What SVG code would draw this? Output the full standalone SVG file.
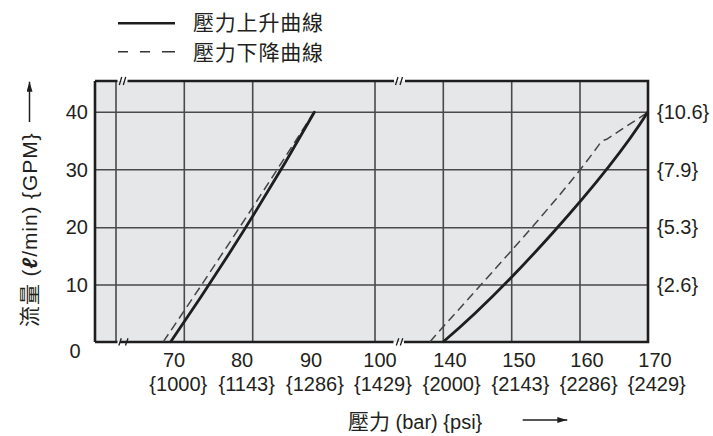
<svg xmlns="http://www.w3.org/2000/svg" width="713" height="436" viewBox="0 0 713 436">
<style>
.t{font-family:"Liberation Sans","Noto Sans CJK TC",sans-serif;font-size:20px;fill:#231f20}
.c{font-size:21px}
.grid{stroke:#4a4a4a;stroke-width:1.6;fill:none}
.frame{stroke:#1e1e1e;stroke-width:2.6;fill:none}
.brk{stroke:#1e1e1e;stroke-width:1.3;fill:none}
.up{stroke:#1e1e1e;stroke-width:2.8;fill:none;stroke-linejoin:round;stroke-linecap:round}
.down{stroke:#444;stroke-width:1.5;fill:none;stroke-dasharray:9 5}
</style>
<defs>
<marker id="ah" viewBox="0 0 10 6" refX="10" refY="3" markerWidth="10" markerHeight="6" markerUnits="userSpaceOnUse" orient="auto">
<path d="M0,0 L10,3 L0,6 Z" fill="#1e1e1e"/>
</marker>
</defs>

<g id="legend">
<line x1="118" y1="23.3" x2="175" y2="23.3" stroke="#1e1e1e" stroke-width="2.6"/>
<text class="t c" x="193" y="30" letter-spacing="0.8">壓力上升曲線</text>
<line x1="118" y1="51.7" x2="175" y2="51.7" stroke="#333" stroke-width="1.6" stroke-dasharray="10 12 10 12 13"/>
<text class="t c" x="193" y="60" letter-spacing="0.8">壓力下降曲線</text>
</g>

<g id="plot">
<rect x="95" y="81" width="553" height="261" fill="#e6e7e8"/>
<g id="gridlines">
<path class="grid" d="M95,112.3 H648 M95,169.7 H648 M95,227.7 H648 M95,285 H648"/>
<path class="grid" d="M116,81 V342 M184.3,81 V342 M252.7,81 V342 M375,81 V342 M443.3,81 V342 M511.7,81 V342 M580,81 V342"/>
</g>
<g id="frame">
<path class="frame" d="M95,81 H117.5 M127.5,81 H394 M405,81 H648 V342 H404 M393.5,342 H120 M95,342 H117.5 M95,81 V342"/>
<path class="brk" d="M119.3,85 L121.7,77 M123.3,85 L125.7,77"/>
<path class="brk" d="M395.5,85 L398,77 M400,85 L402.5,77"/>
<path class="brk" d="M118.8,345.5 L121.3,338.3 M125.5,345.5 L128,338.3"/>
<path class="brk" d="M396.3,345.5 L398.8,338.3 M400.3,345.5 L402.8,338.3"/>
</g>
</g>

<g id="connectors">
<path id="left-down" class="down" d="M163.3,341.7 Q240.5,228 313.3,113"/>
<path id="left-up" class="up" d="M170.7,341.7 Q249.5,227 314.3,112.3"/>
<path id="right-down" class="down" d="M430,341.7 C470,296 560,200 600,143.3 Q603,140 606.7,139.3 L647.7,112.3"/>
<path id="right-up" class="up" d="M443.3,341.7 C505,290 605,180 647.7,112.3"/>
</g>

<g id="y-axis-labels">
<text class="t" x="88" y="119" text-anchor="end">40</text>
<text class="t" x="88" y="176.5" text-anchor="end">30</text>
<text class="t" x="88" y="234" text-anchor="end">20</text>
<text class="t" x="88" y="291.5" text-anchor="end">10</text>
<text class="t" x="75" y="358" text-anchor="middle">0</text>
</g>

<g id="y-axis-right-labels">
<text class="t" x="657" y="119">{10.6}</text>
<text class="t" x="657" y="176.5">{7.9}</text>
<text class="t" x="657" y="234">{5.3}</text>
<text class="t" x="657" y="291.5">{2.6}</text>
</g>

<g id="x-axis-labels" text-anchor="middle">
<text class="t" x="174" y="367">70</text>
<text class="t" x="242" y="367">80</text>
<text class="t" x="311" y="367">90</text>
<text class="t" x="380" y="367">100</text>
<text class="t" x="450" y="367">140</text>
<text class="t" x="519" y="367">150</text>
<text class="t" x="587" y="367">160</text>
<text class="t" x="655" y="367">170</text>
<text class="t" x="178.3" y="391">{1000}</text>
<text class="t" x="246.7" y="391">{1143}</text>
<text class="t" x="315" y="391">{1286}</text>
<text class="t" x="383" y="391">{1429}</text>
<text class="t" x="451.7" y="391">{2000}</text>
<text class="t" x="520.5" y="391">{2143}</text>
<text class="t" x="588.7" y="391">{2286}</text>
<text class="t" x="656.8" y="391">{2429}</text>
</g>

<g id="x-title">
<text class="t" x="348" y="429"><tspan class="c">壓力</tspan> (bar) {psi}</text>
<line x1="522.7" y1="420" x2="567.3" y2="420" stroke="#1e1e1e" stroke-width="1.5" marker-end="url(#ah)"/>
</g>

<g id="y-title">
<text class="t c" transform="translate(37,327) rotate(-90)" letter-spacing="0.9">流量 (<tspan font-weight="bold" font-style="italic">ℓ</tspan>/min) {GPM}</text>
<line x1="29.5" y1="122" x2="29.5" y2="81.7" stroke="#1e1e1e" stroke-width="1.5" marker-end="url(#ah)"/>
</g>
</svg>
